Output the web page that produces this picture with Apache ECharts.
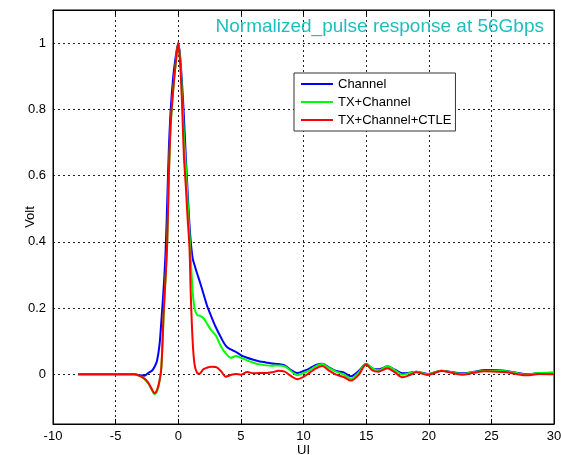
<!DOCTYPE html>
<html>
<head>
<meta charset="utf-8">
<script src="https://cdn.jsdelivr.net/npm/echarts@6/dist/echarts.min.js"></script>
<style>
html,body{margin:0;padding:0;background:#fff;}
#chart{width:561px;height:455px;}
</style>
</head>
<body>
<div id="chart"></div>
<script>
const titleText = 'Normalized_pulse response at 56Gbps';
const seriesNames = ['Channel', 'TX+Channel', 'TX+Channel+CTLE'];
const xTicks = [-10, -5, 0, 5, 10, 15, 20, 25, 30];
const yTicks = [0, 0.2, 0.4, 0.6, 0.8, 1];

const ui = [-8, -4, -3.5, -3, -2.7, -2.4, -2.1, -1.9, -1.7, -1.5, -1.35, -1.15, -1.0, -0.88, -0.75, -0.6, -0.4, -0.2, 0,
  0.15, 0.3, 0.45, 0.6, 0.75, 0.9, 1.0, 1.15, 1.3, 1.5, 1.7, 2.0, 2.3, 2.6, 3.0, 3.4, 3.8, 4.2, 4.6, 5.0, 5.5, 6.0, 6.5,
  7.0, 7.5, 8.0, 8.5, 9.0, 9.5, 10.0, 10.5, 11.0, 11.5, 12.0, 12.6, 13.2, 13.8, 14.4, 15.0, 15.5, 16.0, 16.7, 17.3, 17.9,
  18.5, 19.0, 19.9, 21.0, 22.0, 22.7, 23.5, 24.5, 25.5, 26.2, 27.0, 27.8, 28.8, 30];

const channel = [0, 0, 0, -0.003, -0.004, 0.004, 0.011, 0.022, 0.04, 0.088, 0.16, 0.27, 0.38, 0.52, 0.68, 0.8, 0.9, 0.96, 1.0,
  0.96, 0.88, 0.78, 0.66, 0.55, 0.45, 0.4, 0.35, 0.33, 0.305, 0.282, 0.245, 0.207, 0.178, 0.142, 0.112, 0.086, 0.075, 0.068, 0.058, 0.05, 0.044, 0.039,
  0.036, 0.033, 0.031, 0.027, 0.013, 0.004, 0.01, 0.018, 0.028, 0.032, 0.022, 0.01, 0.006, -0.006, 0.01, 0.031, 0.018, 0.015, 0.024, 0.014, 0.003,
  0.005, 0.008, 0.001, 0.011, 0.006, 0.003, 0.007, 0.013, 0.012, 0.01, 0.005, 0.0, 0.004, 0.005];

const txChannel = [0, 0, 0, -0.006, -0.014, -0.027, -0.048, -0.06, -0.052, -0.022, 0.02, 0.19, 0.3, 0.4, 0.6, 0.75, 0.86, 0.94, 1.0,
  0.95, 0.85, 0.72, 0.63, 0.52, 0.42, 0.35, 0.25, 0.2, 0.179, 0.177, 0.17, 0.153, 0.135, 0.117, 0.085, 0.063, 0.05, 0.055, 0.05, 0.042, 0.035, 0.03,
  0.027, 0.026, 0.027, 0.024, 0.01, -0.003, 0.004, 0.013, 0.025, 0.031, 0.02, 0.008, 0.0, -0.013, 0.005, 0.031, 0.018, 0.012, 0.024, 0.012, -0.001,
  0.004, 0.008, 0.0, 0.011, 0.005, 0.001, 0.006, 0.011, 0.01, 0.009, 0.004, -0.001, 0.004, 0.005];

const txChannelCtle = [0, 0, 0, -0.006, -0.013, -0.025, -0.045, -0.057, -0.048, -0.02, 0.02, 0.2, 0.3, 0.4, 0.6, 0.76, 0.86, 0.94, 1.0,
  0.94, 0.82, 0.66, 0.57, 0.47, 0.38, 0.24, 0.1, 0.03, 0.005, 0.002, 0.015, 0.02, 0.023, 0.022, 0.01, -0.007, -0.002, 0.001, -0.001, 0.007, 0.003, 0.004,
  0.004, 0.006, 0.011, 0.008, -0.005, -0.015, -0.008, 0.005, 0.018, 0.025, 0.012, -0.001, -0.008, -0.019, -0.002, 0.03, 0.012, 0.008, 0.018, 0.006, -0.009,
  -0.002, 0.006, -0.002, 0.01, 0.003, -0.001, 0.004, 0.009, 0.008, 0.006, 0.001, -0.003, 0.001, 0.0];

const colors = ['#0000ff', '#00ff00', '#ff0000'];
const allSeries = [channel, txChannel, txChannelCtle];

const chart = echarts.init(document.getElementById('chart'), null, {renderer: 'canvas'});
const FONT = 'Liberation Sans, Arial, sans-serif';
const gridLine = {show: true, lineStyle: {color: '#222', type: [2, 3], width: 1}};

function fmtY(v) {
  return yTicks.some(t => Math.abs(t - v) < 1e-6) ? String(Math.round(v * 10) / 10) : '';
}

chart.setOption({
  backgroundColor: '#fff',
  animation: false,
  title: {
    text: titleText,
    right: 12, top: 12,
    textStyle: {color: '#1ebebe', fontSize: 19, fontWeight: 'normal', fontFamily: FONT}
  },
  legend: {
    orient: 'vertical',
    left: 294, top: 73,
    data: seriesNames,
    icon: 'path://M0,0L32,0L32,2L0,2Z',
    itemWidth: 32, itemHeight: 2, itemGap: 4,
    padding: [4, 4, 4, 7],
    backgroundColor: '#fff',
    borderColor: '#333', borderWidth: 1, borderRadius: 0,
    textStyle: {fontSize: 13, fontFamily: FONT, color: '#000', lineHeight: 14}
  },
  grid: {left: 53, right: 7, top: 10, bottom: 31, show: true, borderColor: '#000', borderWidth: 1, backgroundColor: '#fff', outerBoundsMode: 'none', containLabel: false},
  xAxis: [{
    type: 'value', min: -10, max: 30, interval: 5,
    name: 'UI', nameLocation: 'middle', nameGap: 20, nameMoveOverlap: false,
    nameTextStyle: {fontSize: 13, fontFamily: FONT, color: '#000'},
    axisLine: {show: true, onZero: false, lineStyle: {color: '#000'}},
    axisTick: {show: true, inside: true, length: 5, lineStyle: {color: '#000'}},
    axisLabel: {fontSize: 13, fontFamily: FONT, color: '#000', margin: 6},
    splitLine: gridLine
  }, {
    type: 'value', min: -10, max: 30, interval: 5, position: 'top',
    axisLine: {show: true, onZero: false, lineStyle: {color: '#000'}},
    axisTick: {show: true, inside: true, length: 5, lineStyle: {color: '#000'}},
    axisLabel: {show: false}, splitLine: {show: false}
  }],
  yAxis: [{
    type: 'value', min: -0.15, max: 1.1, splitNumber: 6,
    name: 'Volt', nameLocation: 'middle', nameGap: 16, nameMoveOverlap: false,
    nameTextStyle: {fontSize: 13, fontFamily: FONT, color: '#000'},
    axisLine: {show: true, onZero: false, lineStyle: {color: '#000'}},
    axisTick: {show: false},
    axisLabel: {fontSize: 13, fontFamily: FONT, color: '#000', margin: 7, showMinLabel: false, showMaxLabel: false, formatter: fmtY},
    splitLine: gridLine
  }, {
    type: 'value', min: -0.15, max: 1.1, splitNumber: 6, position: 'right',
    axisLine: {show: true, onZero: false, lineStyle: {color: '#000'}},
    axisTick: {show: false},
    axisLabel: {show: false}, splitLine: {show: false}
  }],
  series: seriesNames.map((name, i) => ({
    name: name,
    type: 'line',
    xAxisIndex: 0, yAxisIndex: 0,
    data: ui.map((x, k) => [x, allSeries[i][k]]),
    showSymbol: false, symbol: 'none',
    smooth: 0.3,
    color: colors[i],
    lineStyle: {color: colors[i], width: 2},
    z: 2 + i
  }))
});
</script>
</body>
</html>
